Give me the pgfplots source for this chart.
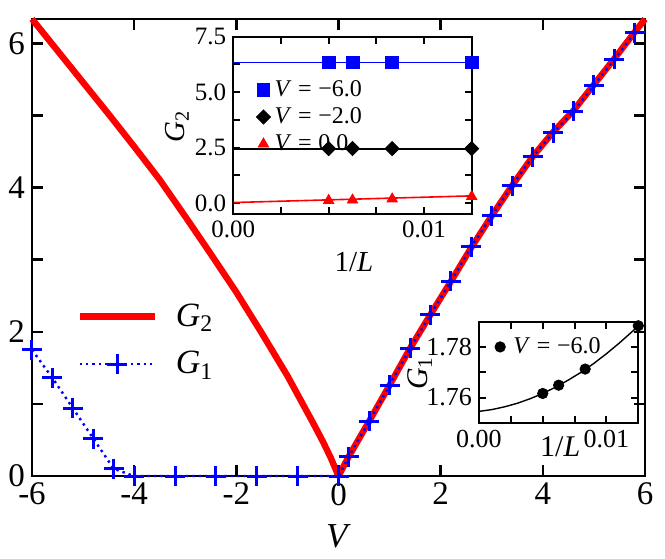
\documentclass[border=0pt]{standalone}
\usepackage{fontspec}
\setmainfont{Liberation Serif}
\usepackage{pgfplots}
\pgfplotsset{compat=1.18}
\usetikzlibrary{calc}
\pgfplotsset{
  gtwoleg/.style={legend image code/.code={\draw[##1] (0pt,0pt) -- (37.5pt,0pt);}},
  goneleg/.style={legend image code/.code={\draw[mark repeat=2,mark phase=2,##1] plot coordinates {(0pt,0pt) (18.75pt,0pt) (37.5pt,0pt)};}},
}
\begin{document}
\begin{tikzpicture}
\begin{axis}[
  name=main,
  scale only axis, width=306.5pt, height=228.5pt,
  xmin=-6, xmax=6, ymin=0, ymax=6.34,
  clip=false,
  axis line style={line width=1.3pt},
  tick style={line width=1.3pt, black},
  major tick length=5.5pt,
  tick align=inside,
  xtick={-6,-4,-2,0,2,4,6}, xticklabels={-6,-4,-2,0,2,4,6},
  ytick={0,1,2,3,4,5,6}, yticklabels={0,,2,,4,,6},
  ticklabel style={font=\fontsize{16.5}{18}\selectfont},
  xlabel={\textit{V}},
  xlabel style={font=\fontsize{17.5}{20}\selectfont, at={(axis description cs:0.5,-0.133)}, anchor=center},
  legend style={at={(axis description cs:0.062,0.395)}, anchor=north west, draw=none, fill=none,
    font=\fontsize{17}{20}\selectfont, row sep=7pt, column sep=7pt},
  legend cell align=left,
]
\addplot[red, line width=3.2pt, line join=round, gtwoleg]
  coordinates {(-6,6.34) (-5.5,5.90) (-5,5.46) (-4.5,5.02) (-4,4.57) (-3.5,4.11) (-3,3.60)
  (-2.5,3.08) (-2,2.55) (-1.5,1.98) (-1,1.39) (-0.5,0.74) (-0.3,0.47) (-0.15,0.25) (0,0)
  (0.2,0.27) (0.6,0.76) (1.0,1.26) (1.4,1.77) (1.8,2.24) (2.2,2.70) (2.6,3.17) (3.0,3.61)
  (3.4,4.03) (3.8,4.43) (4.2,4.77) (4.6,5.07) (5.0,5.43) (5.4,5.79) (5.8,6.16) (6.0,6.34)};
\addlegendentry{\textit{G}\textsubscript{2}}
\addplot[blue, line width=1.2pt, dash pattern=on 1.2pt off 2pt, mark=+, mark size=5pt,
  mark options={solid, line width=1.5pt}, goneleg]
  coordinates {(-6,1.75) (-5.6,1.36) (-5.2,0.94) (-4.8,0.52) (-4.4,0.10) (-4.0,0) (-3.2,0)
  (-2.4,0) (-1.6,0) (-0.8,0) (0,0) (0.2,0.27) (0.6,0.76) (1.0,1.26) (1.4,1.77) (1.8,2.24)
  (2.2,2.70) (2.6,3.18) (3.0,3.61) (3.4,4.03) (3.8,4.43) (4.2,4.76) (4.6,5.06) (5.0,5.42)
  (5.4,5.78) (5.8,6.15)};
\addlegendentry{\textit{G}\textsubscript{1}}
\end{axis}

\begin{axis}[
  at={($(main.south west)+(100.65pt,130.85pt)$)}, anchor=south west,
  scale only axis, width=119.2pt, height=88.8pt,
  xmin=0, xmax=0.0125, ymin=-0.5, ymax=7.5,
  clip=false, scaled ticks=false,
  axis line style={line width=1pt},
  tick style={line width=1pt, black},
  major tick length=3.5pt,
  tick align=inside,
  xtick={0,0.0025,0.005,0.0075,0.01,0.0125}, xticklabels={0.00,,,,0.01,},
  ytick={0,1.25,2.5,3.75,5,6.25,7.5}, yticklabels={0.0,,2.5,,5.0,,7.5},
  ticklabel style={font=\fontsize{12.5}{14}\selectfont},
  xlabel={1/\textit{L}}, ylabel={\textit{G}\textsubscript{2}},
  label style={font=\fontsize{14.5}{16}\selectfont},
  xlabel style={at={(axis description cs:0.506,-0.27)}, anchor=center},
  ylabel style={at={(axis description cs:-0.236,0.497)}, anchor=center},
  legend style={at={(axis description cs:0.07,0.8)}, anchor=north west, draw=none, fill=none,
    font=\fontsize{12}{13}\selectfont, row sep=0pt},
  legend cell align=left,
]
\addplot[blue, line width=0.8pt, forget plot] coordinates {(0,6.34) (0.0125,6.34)};
\addplot[only marks, mark=square*, mark size=3.2pt, color=blue] coordinates {(0.005,6.34) (0.00625,6.34) (0.00833,6.34) (0.0125,6.34)};
\addlegendentry{\textit{V}\;=\;−6.0}
\addplot[black, line width=1pt, forget plot] coordinates {(0,2.46) (0.0125,2.46)};
\addplot[only marks, mark=square*, mark size=2.5pt, mark options={rotate=45}, color=black] coordinates {(0.005,2.46) (0.00625,2.46) (0.00833,2.46) (0.0125,2.46)};
\addlegendentry{\textit{V}\;=\;−2.0}
\addplot[red, line width=0.8pt, forget plot] coordinates {(0,0.03) (0.0125,0.33)};
\addplot[only marks, mark=triangle*, mark size=3pt, color=red] coordinates {(0.005,0.12) (0.00625,0.14) (0.00833,0.19) (0.0125,0.30)};
\addlegendentry{\textit{V}\;=\;0.0}
\end{axis}

\begin{axis}[
  at={($(main.south west)+(223.5pt,26.65pt)$)}, anchor=south west,
  scale only axis, width=79.65pt, height=50.35pt,
  xmin=0, xmax=0.0125, ymin=1.75, ymax=1.79,
  clip=false, scaled ticks=false,
  axis line style={line width=1pt},
  tick style={line width=1pt, black},
  major tick length=3.5pt,
  tick align=inside,
  xtick={0,0.0025,0.005,0.0075,0.01,0.0125}, xticklabels={0.00,,,,0.01,},
  ytick={1.75,1.76,1.77,1.78,1.79}, yticklabels={,1.76,,1.78,},
  ticklabel style={font=\fontsize{13}{14}\selectfont},
  xlabel={1/\textit{L}}, ylabel={\textit{G}\textsubscript{1}},
  label style={font=\fontsize{15}{16}\selectfont},
  xlabel style={at={(axis description cs:0.51,-0.24)}, anchor=center},
  ylabel style={at={(axis description cs:-0.37,0.49)}, anchor=center},
  legend style={at={(axis description cs:0.06,0.93)}, anchor=north west, draw=none, fill=none,
    font=\fontsize{12}{13}\selectfont, column sep=2pt},
  legend cell align=left,
]
\addplot[black, line width=0.7pt, forget plot] coordinates {(0,1.7545) (0.001,1.7552) (0.002,1.7563)
  (0.003,1.7577) (0.004,1.7595) (0.005,1.7616) (0.006,1.7641) (0.007,1.7669) (0.008,1.7700)
  (0.009,1.7735) (0.010,1.7774) (0.011,1.7816) (0.012,1.7861) (0.0125,1.7885)};
\addplot[only marks, mark=*, mark size=2.6pt, color=black] coordinates {(0.005,1.7616) (0.00625,1.7649) (0.00833,1.7713) (0.0125,1.7885)};
\addlegendentry{\textit{V}\;=\;−6.0}
\end{axis}
\pgfresetboundingbox
\path ($(main.south west)+(-16pt,-41pt)$) rectangle ++(332.5pt,279pt);
\end{tikzpicture}
\end{document}
